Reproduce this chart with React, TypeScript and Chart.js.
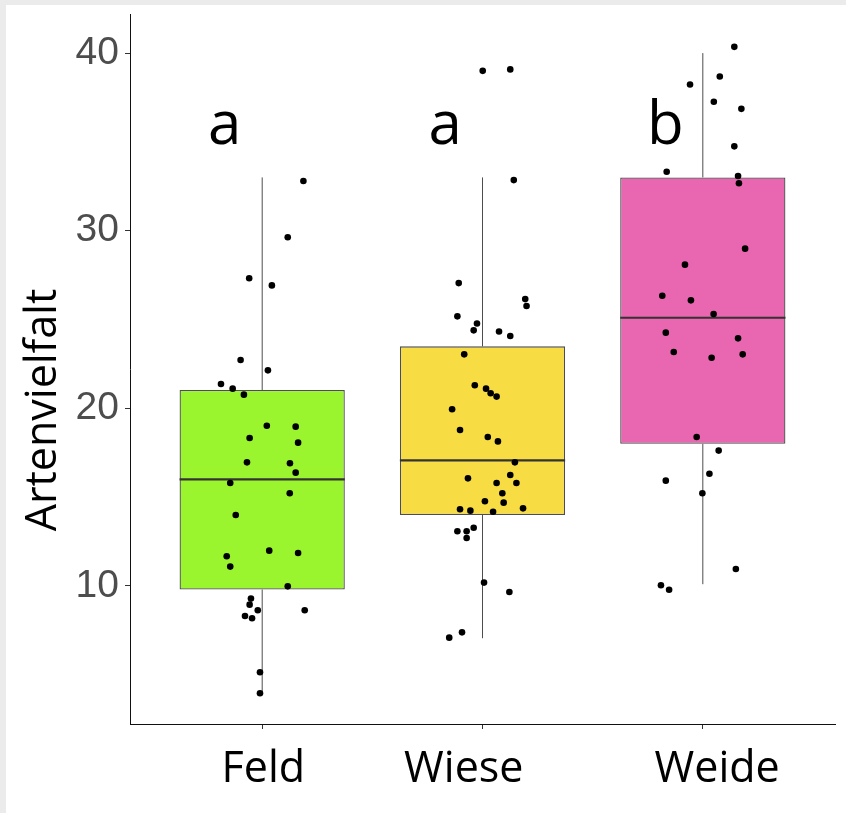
import React, { useEffect, useRef } from "react";
import { Chart, registerables } from "chart.js";

Chart.register(...registerables);

// ---- data ----
const categories = ["Feld", "Wiese", "Weide"];
const categoryLabelShift = [0.005, -0.085, 0.065];
const yTickValues = [10, 20, 30, 40];
const boxQ1 = [9.8, 14.0, 18.0];
const boxMedian = [16.0, 17.07, 25.1];
const boxQ3 = [21.03, 23.49, 33.0];
const whiskerLow = [3.98, 7.06, 10.1];
const whiskerHigh = [33.0, 33.0, 40.0];
const groupLetters = ["a", "a", "b"];
const letterValue = 34.9;
const yTitle = "Artenvielfalt";

const feldX = [1.187, 1.116, 0.941, 1.044, 0.902, 1.026, 0.813, 0.866, 0.917, 1.021, 1.152, 0.943, 1.163, 0.931, 1.126, 1.152, 0.855, 1.125, 0.88, 1.032, 1.163, 0.839, 0.855, 1.116, 0.949, 0.943, 0.98, 1.193, 0.922, 0.954, 0.99, 0.99];
const feldY = [32.8, 29.63, 27.32, 26.92, 22.72, 22.14, 21.37, 21.11, 20.77, 19.02, 18.97, 18.33, 18.07, 16.96, 16.91, 16.38, 15.8, 15.22, 14.0, 11.99, 11.86, 11.67, 11.09, 9.98, 9.29, 8.95, 8.63, 8.63, 8.31, 8.18, 5.14, 3.96];

const wieseX = [2.001, 2.126, 2.142, 1.892, 2.194, 2.2, 1.886, 1.975, 1.96, 2.075, 2.126, 1.917, 1.965, 2.016, 2.037, 2.064, 1.862, 1.898, 2.024, 2.07, 2.147, 2.126, 1.934, 2.064, 2.154, 2.09, 2.011, 2.096, 1.898, 1.945, 2.048, 2.184, 1.96, 1.886, 1.928, 1.928, 2.007, 2.122, 1.907, 1.849];
const wieseY = [39.0, 39.08, 32.85, 27.05, 26.15, 25.76, 25.18, 24.78, 24.39, 24.33, 24.07, 23.04, 21.3, 21.11, 20.85, 20.66, 19.95, 18.78, 18.39, 18.14, 16.96, 16.25, 16.06, 15.8, 15.8, 15.22, 14.77, 14.69, 14.32, 14.24, 14.18, 14.37, 13.28, 13.08, 13.08, 12.7, 10.19, 9.66, 7.39, 7.09];

const weideX = [3.143, 3.077, 2.942, 3.05, 3.175, 3.143, 2.836, 3.16, 3.164, 3.192, 2.919, 2.816, 2.946, 3.049, 2.832, 3.16, 2.868, 3.04, 3.181, 2.972, 3.072, 3.03, 2.832, 2.998, 3.15, 2.81, 2.847];
const weideY = [40.35, 38.68, 38.23, 37.26, 36.86, 34.75, 33.32, 33.08, 32.67, 28.99, 28.09, 26.34, 26.08, 25.31, 24.26, 23.94, 23.17, 22.85, 23.04, 18.39, 17.62, 16.32, 15.93, 15.22, 10.96, 10.04, 9.79];

// ---- styles ----
const boxColors = ["#9AF52F", "#F7DC44", "#E966B1"];
const BOX_WIDTH = 0.75;
const LINE_GRAY = "#4d4d4d";

const annotatePlugin = {
  id: "annotate",
  afterDatasetsDraw(chart: any) {
    const { ctx, chartArea } = chart;
    const x = chart.scales.x;
    const y = chart.scales.y;
    ctx.save();
    ctx.fillStyle = "#000";
    ctx.textAlign = "center";
    ctx.textBaseline = "alphabetic";
    ctx.font = "60px 'Open Sans'";
    groupLetters.forEach((l, i) => {
      ctx.fillText(l, x.getPixelForValue(i + 1 - 0.17), y.getPixelForValue(letterValue));
    });
    ctx.translate(56, (chartArea.top + chartArea.bottom) / 2 + 41);
    ctx.rotate(-Math.PI / 2);
    ctx.font = "43px 'Open Sans'";
    ctx.fillText(yTitle, 0, 0);
    ctx.restore();
  },
};

export default function App() {
  const ref = useRef<HTMLCanvasElement | null>(null);

  useEffect(() => {
    if (!ref.current) return;
    const points = [
      ...feldX.map((v, i) => ({ x: v, y: feldY[i] })),
      ...wieseX.map((v, i) => ({ x: v, y: wieseY[i] })),
      ...weideX.map((v, i) => ({ x: v, y: weideY[i] })),
    ];
    const datasets: any[] = [
      {
        type: "scatter",
        data: points,
        backgroundColor: "#000",
        borderWidth: 0,
        pointRadius: 3.3,
        order: 0,
      },
      {
        type: "bar",
        data: categories.map((_, i) => ({ x: i + 1, y: [boxQ1[i], boxQ3[i]] })),
        backgroundColor: boxColors,
        borderColor: LINE_GRAY,
        borderWidth: 1.3,
        borderSkipped: false,
        barPercentage: BOX_WIDTH,
        categoryPercentage: 1,
        order: 2,
      },
    ];
    categories.forEach((_, i) => {
      datasets.push({
        type: "line",
        data: [
          { x: i + 1 - BOX_WIDTH / 2, y: boxMedian[i] },
          { x: i + 1 + BOX_WIDTH / 2, y: boxMedian[i] },
        ],
        borderColor: "#333",
        borderWidth: 2.2,
        pointRadius: 0,
        order: 1,
      });
      datasets.push({
        type: "line",
        data: [
          { x: i + 1, y: whiskerLow[i] },
          { x: i + 1, y: boxQ1[i] },
        ],
        borderColor: LINE_GRAY,
        borderWidth: 1,
        pointRadius: 0,
        order: 3,
      });
      datasets.push({
        type: "line",
        data: [
          { x: i + 1, y: boxQ3[i] },
          { x: i + 1, y: whiskerHigh[i] },
        ],
        borderColor: LINE_GRAY,
        borderWidth: 1,
        pointRadius: 0,
        order: 3,
      });
    });

    const chart = new Chart(ref.current, {
      type: "scatter",
      data: { datasets },
      options: {
        animation: false,
        responsive: false,
        layout: { padding: { top: 14, right: 11, left: 0, bottom: 0 } },
        plugins: { legend: { display: false }, tooltip: { enabled: false } },
        scales: {
          x: {
            type: "linear",
            position: "bottom",
            weight: 0,
            min: 0.4,
            max: 3.6,
            offset: false,
            afterBuildTicks: (s: any) => {
              s.ticks = categories.map((_, i) => ({ value: i + 1 }));
            },
            afterFit: (s: any) => {
              s.height = 5;
              s.paddingLeft = 0;
              s.paddingRight = 0;
            },
            grid: { display: true, drawOnChartArea: false, drawTicks: true, tickLength: 5, color: "#333", offset: false },
            border: { display: true, color: "#111", width: 1 },
            ticks: { display: false },
          },
          xLabels: {
            type: "linear",
            position: "bottom",
            weight: 1,
            min: 0.4,
            max: 3.6,
            offset: false,
            afterBuildTicks: (s: any) => {
              s.ticks = categories.map((_, i) => ({ value: i + 1 + categoryLabelShift[i] }));
            },
            afterFit: (s: any) => {
              s.height = 84;
              s.paddingLeft = 0;
              s.paddingRight = 0;
            },
            grid: { display: false },
            border: { display: false },
            ticks: {
              autoSkip: false,
              maxRotation: 0,
              color: "#000",
              padding: 7,
              font: { family: "'Open Sans'", size: 43 },
              callback: (_v: any, i: number) => categories[i] ?? "",
            },
          },
          y: {
            type: "linear",
            min: 2.23,
            max: 42.2,
            afterBuildTicks: (s: any) => {
              s.ticks = yTickValues.map((v) => ({ value: v }));
            },
            afterFit: (s: any) => {
              s.width = 130;
              s.paddingTop = 0;
              s.paddingBottom = 0;
            },
            grid: { display: true, drawOnChartArea: false, drawTicks: true, tickLength: 5, color: "#333" },
            border: { display: true, color: "#111", width: 1 },
            ticks: {
              color: "#4d4d4d",
              padding: 6,
              font: { family: "'Liberation Sans'", size: 39 },
            },
          },
        },
      },
      plugins: [annotatePlugin],
    } as any);
    return () => chart.destroy();
  }, []);

  return (
    <div style={{ position: "fixed", left: 0, top: 0, width: 846, height: 813, background: "#ebebeb" }}>
      <div style={{ position: "absolute", left: 6, top: 5, right: 0, bottom: 0, background: "#fff" }} />
      <canvas ref={ref} width={846} height={813} style={{ position: "absolute", left: 0, top: 0, width: 846, height: 813 }} />
    </div>
  );
}
